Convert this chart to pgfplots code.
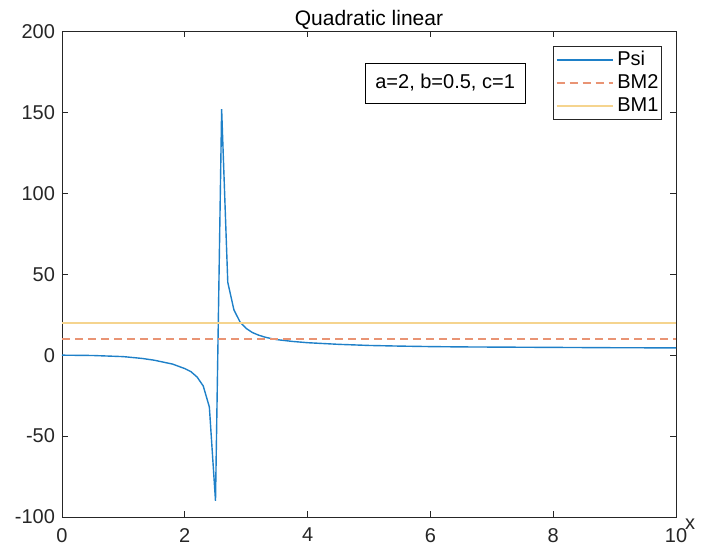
\documentclass[border=0pt]{standalone}
\usepackage{pgfplots}
\pgfplotsset{compat=1.18}
\usepackage{fontspec}
\setmainfont{Liberation Sans}
\usetikzlibrary{calc}
\definecolor{psiblue}{RGB}{30,128,200}
\definecolor{bmtwo}{RGB}{233,148,116}
\definecolor{bmone}{RGB}{245,212,142}
\definecolor{axgray}{RGB}{38,38,38}
\pgfplotstableread{
x y
0 0
0.5 -0.2
1.0 -0.9
1.3 -2.0
1.5 -3.1
1.8 -5.5
2.0 -8.3
2.1 -10.2
2.2 -13.5
2.3 -19
2.4 -32
2.5 -90
2.6 152
2.7 45
2.8 28
2.9 20.5
3.0 16.5
3.1 14
3.2 12.4
3.3 11.2
3.4 10.3
3.5 9.6
3.75 8.5
4.0 7.7
4.5 6.7
5.0 6.0
5.5 5.6
6.0 5.3
6.5 5.1
7.0 5.0
7.5 4.9
8.0 4.8
8.5 4.7
9.0 4.6
9.5 4.55
10 4.5
}\psidata
\begin{document}
\begin{tikzpicture}
\begin{axis}[
  scale only axis, width=307pt, height=242.75pt,
  xmin=0, xmax=10, ymin=-100, ymax=200,
  xtick={0,2,...,10}, ytick={-100,-50,...,200},
  tick align=inside, major tick length=3pt,
  axis line style={axgray, line width=0.4pt},
  every tick/.style={axgray, line width=0.4pt},
  tick label style={font=\fontsize{10}{12}\selectfont, text=axgray},
  xticklabel style={yshift=-2pt},
  /pgf/number format/assume math mode=true,
  every axis title shift=0pt,
  title={Quadratic linear},
  title style={at={(rel axis cs:0.5,1)}, anchor=base, yshift=3pt, font=\fontsize{10.5}{12}\selectfont},
  xlabel={x},
  xlabel style={at={(rel axis cs:1,0)}, anchor=center, xshift=7pt, yshift=-3.5pt, font=\fontsize{10}{12}\selectfont, text=axgray},
  legend style={at={(rel axis cs:0.977,0.970)}, anchor=north east, draw=axgray, line width=0.4pt,
    font=\fontsize{10}{12}\selectfont, inner xsep=1pt, inner ysep=1.5pt, row sep=1pt,
    nodes={inner sep=0.5pt, text height=7.5pt, text depth=2pt},
    /tikz/every odd column/.append style={column sep=1.5pt}},
  legend cell align=left,
  legend image code/.code={\draw[mark repeat=2,mark phase=2,#1] plot coordinates {(0pt,0pt) (14pt,0pt) (28pt,0pt)};},
]
\addplot[draw=psiblue, line width=0.7pt] table {\psidata};
\addlegendentry{Psi}
\addplot[draw=bmtwo, line width=0.8pt, dash pattern=on 4pt off 2.5pt] coordinates {(0,10) (10,10)};
\addlegendentry{BM2}
\addplot[draw=bmone, line width=0.8pt] coordinates {(0,20) (10,20)};
\addlegendentry{BM1}
\node[draw=black, line width=0.4pt, minimum width=80pt, minimum height=20pt, inner sep=0pt,
  font=\fontsize{10}{12}\selectfont] at (rel axis cs:0.624,0.894) {a=2, b=0.5, c=1};
\end{axis}
\pgfresetboundingbox
\path ($(current axis.south west)+(-31pt,-19.5pt)$) rectangle ($(current axis.north east)+(14.5pt,15.75pt)$);
\end{tikzpicture}
\end{document}
